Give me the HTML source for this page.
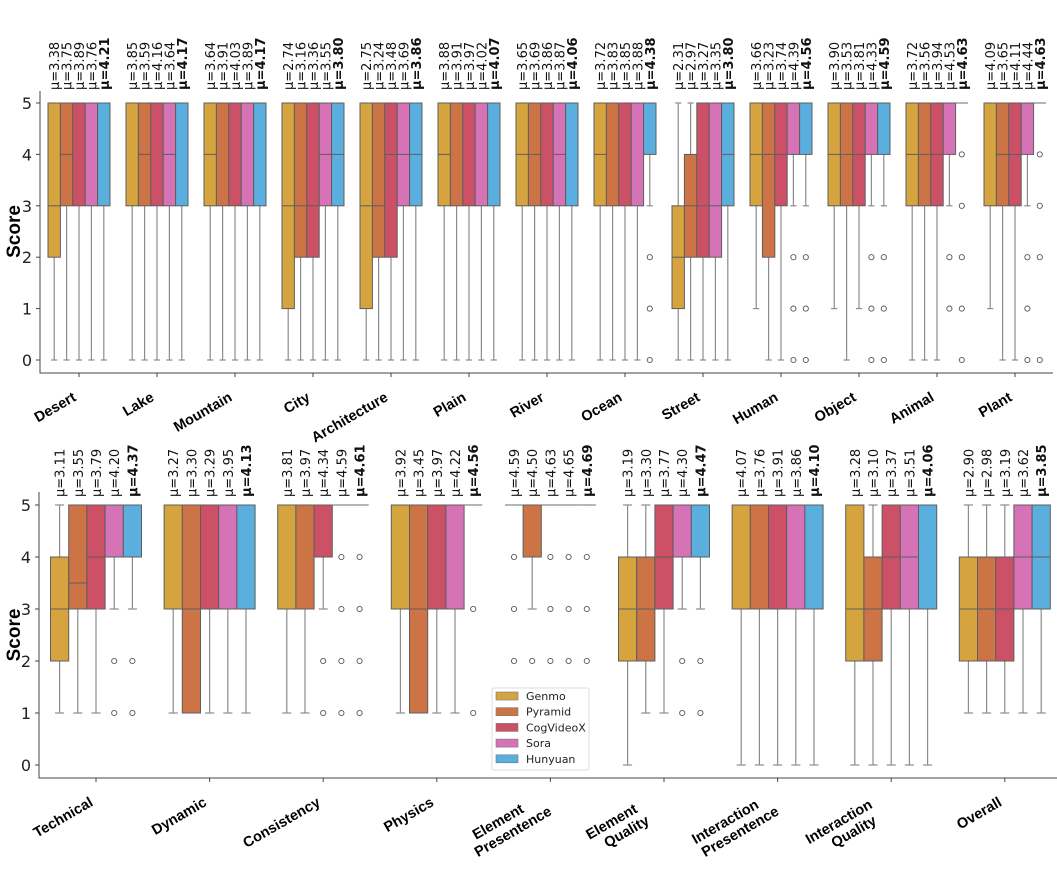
<!DOCTYPE html>
<html><head><meta charset="utf-8"><style>
body{margin:0;background:#fff}
svg{display:block;font-family:"Liberation Sans",sans-serif}
</style></head><body>
<svg id="chart" width="1057" height="888" viewBox="0 0 1057 888"></svg>
<script>
const models = ["Genmo","Pyramid","CogVideoX","Sora","Hunyuan"];
const colors = ["#d6a43f","#cc7446","#cc5166","#d672b6","#5aafde"];
const yTicks = [0,1,2,3,4,5];

const catsTop = ["Desert","Lake","Mountain","City","Architecture","Plain","River","Ocean","Street","Human","Object","Animal","Plant"];
const meansTop = [
 [3.38,3.75,3.89,3.76,4.21],[3.85,3.59,4.16,3.64,4.17],[3.64,3.91,4.03,3.89,4.17],[2.74,3.16,3.36,3.55,3.80],
 [2.75,3.24,3.48,3.69,3.86],[3.88,3.91,3.97,4.02,4.07],[3.65,3.69,3.86,3.87,4.06],[3.72,3.83,3.85,3.88,4.38],
 [2.31,2.97,3.27,3.35,3.80],[3.66,3.23,3.74,4.39,4.56],[3.90,3.53,3.81,4.33,4.59],[3.72,3.56,3.94,4.53,4.63],
 [4.09,3.65,4.11,4.44,4.63]];
// [whiskerLow, q1, median, q3, whiskerHigh]
const statsTop = [
 [[0,2,3,5,5],[0,3,4,5,5],[0,3,5,5,5],[0,3,5,5,5],[0,3,5,5,5]],
 [[0,3,5,5,5],[0,3,4,5,5],[0,3,5,5,5],[0,3,4,5,5],[0,3,5,5,5]],
 [[0,3,4,5,5],[0,3,5,5,5],[0,3,5,5,5],[0,3,5,5,5],[0,3,5,5,5]],
 [[0,1,3,5,5],[0,2,3,5,5],[0,2,3,5,5],[0,3,4,5,5],[0,3,4,5,5]],
 [[0,1,3,5,5],[0,2,3,5,5],[0,2,4,5,5],[0,3,4,5,5],[0,3,4,5,5]],
 [[0,3,4,5,5],[0,3,5,5,5],[0,3,5,5,5],[0,3,5,5,5],[0,3,5,5,5]],
 [[0,3,4,5,5],[0,3,4,5,5],[0,3,5,5,5],[0,3,4,5,5],[0,3,5,5,5]],
 [[0,3,4,5,5],[0,3,5,5,5],[0,3,5,5,5],[0,3,5,5,5],[3,4,5,5,5]],
 [[0,1,2,3,5],[0,2,3,4,5],[0,2,3,5,5],[0,2,3,5,5],[0,3,4,5,5]],
 [[1,3,4,5,5],[0,2,4,5,5],[0,3,4,5,5],[3,4,5,5,5],[3,4,5,5,5]],
 [[1,3,4,5,5],[0,3,4,5,5],[1,3,4,5,5],[3,4,5,5,5],[3,4,5,5,5]],
 [[0,3,4,5,5],[0,3,4,5,5],[0,3,4,5,5],[3,4,5,5,5],[5,5,5,5,5]],
 [[1,3,5,5,5],[0,3,4,5,5],[0,3,4,5,5],[3,4,5,5,5],[5,5,5,5,5]]];
const outTop = [
 [[],[],[],[],[]],[[],[],[],[],[]],[[],[],[],[],[]],[[],[],[],[],[]],[[],[],[],[],[]],[[],[],[],[],[]],[[],[],[],[],[]],
 [[],[],[],[],[2,1,0]],[[],[],[],[],[]],
 [[],[],[],[2,1,0],[2,1,0]],[[],[],[],[2,1,0],[2,1,0]],
 [[],[],[],[2,1],[4,3,2,1,0]],[[],[],[],[2,1,0],[4,3,2,0]]];

const catsBot = [["Technical"],["Dynamic"],["Consistency"],["Physics"],["Element","Presentence"],["Element","Quality"],["Interaction","Presentence"],["Interaction","Quality"],["Overall"]];
const meansBot = [
 [3.11,3.55,3.79,4.20,4.37],[3.27,3.30,3.29,3.95,4.13],[3.81,3.97,4.34,4.59,4.61],[3.92,3.45,3.97,4.22,4.56],
 [4.59,4.50,4.63,4.65,4.69],[3.19,3.30,3.77,4.30,4.47],[4.07,3.76,3.91,3.86,4.10],[3.28,3.10,3.37,3.51,4.06],
 [2.90,2.98,3.19,3.62,3.85]];
const statsBot = [
 [[1,2,3,4,5],[1,3,3.5,5,5],[1,3,4,5,5],[3,4,5,5,5],[3,4,5,5,5]],
 [[1,3,5,5,5],[1,1,3,5,5],[1,3,5,5,5],[1,3,5,5,5],[1,3,5,5,5]],
 [[1,3,5,5,5],[1,3,5,5,5],[3,4,5,5,5],[5,5,5,5,5],[5,5,5,5,5]],
 [[1,3,5,5,5],[1,1,3,5,5],[1,3,5,5,5],[1,3,5,5,5],[5,5,5,5,5]],
 [[5,5,5,5,5],[3,4,5,5,5],[5,5,5,5,5],[5,5,5,5,5],[5,5,5,5,5]],
 [[0,2,3,4,5],[1,2,3,4,5],[1,3,4,5,5],[3,4,5,5,5],[3,4,5,5,5]],
 [[0,3,5,5,5],[0,3,5,5,5],[0,3,5,5,5],[0,3,5,5,5],[0,3,5,5,5]],
 [[0,2,3,5,5],[0,2,3,4,5],[0,3,4,5,5],[0,3,4,5,5],[0,3,5,5,5]],
 [[1,2,3,4,5],[1,2,3,4,5],[1,2,3,4,5],[1,3,4,5,5],[1,3,4,5,5]]];
const outBot = [
 [[],[],[],[2,1],[2,1]],[[],[],[],[],[]],[[],[],[2,1],[4,3,2,1],[4,3,2,1]],[[],[],[],[],[3,1]],
 [[4,3,2],[2],[4,3,2],[4,3,2],[4,3,2]],[[],[],[],[2,1],[2,1]],[[],[],[],[],[]],[[],[],[],[],[]],[[],[],[],[],[]]];

const NS="http://www.w3.org/2000/svg";
const svg=document.getElementById('chart');
const DV='"DejaVu Sans", sans-serif';
function mk(tag,attrs,parent,text){const e=document.createElementNS(NS,tag);for(const k in attrs)e.setAttribute(k,attrs[k]);if(text!==undefined)e.textContent=text;(parent||svg).appendChild(e);return e;}

function panel(cfg){
  const g=mk('g',{});
  
  
  const y=v=>cfg.y0 - v*cfg.yUnit;
  const xc=i=>cfg.x0 + i*cfg.step;
  const bw=cfg.groupW/5;
  const ax=mk('path',{d:`M${cfg.spineX} ${cfg.spineTop}V${cfg.axisY}H${cfg.axisRight}`,fill:'none',stroke:'#444','stroke-width':1},g);
   
  yTicks.forEach(t=>{
    mk('line',{x1:cfg.spineX-4,x2:cfg.spineX,y1:y(t),y2:y(t),stroke:'#444'},g);
    const tl=mk('text',{x:cfg.spineX-8,y:y(t)+6,'text-anchor':'end','font-size':16,fill:'#222','font-family':DV},g,String(t));
     
  });
  const yt=mk('text',{transform:`translate(20 ${(y(0)+y(5))/2}) rotate(-90)`,'text-anchor':'middle','font-size':19,'font-weight':'bold',fill:'#000'},g,'Score');
   
  cfg.cats.forEach((c,i)=>{
    const cx=xc(i);
    mk('line',{x1:cx,x2:cx,y1:cfg.axisY,y2:cfg.axisY+4,stroke:'#444'},g);
    const lines=Array.isArray(c)?c:[c];
    const lg=mk('g',{transform:`translate(${cx+cfg.lblDx} ${cfg.axisY+cfg.lblDy}) rotate(-30)`},g);
     
    if(lines.length===1){mk('text',{x:0,y:0,'text-anchor':'end','font-size':14.5,'font-weight':'bold'},lg,lines[0]);}
    else{mk('text',{x:-52,y:-6,'text-anchor':'middle','font-size':14.5,'font-weight':'bold'},lg,lines[0]);
         mk('text',{x:-44,y:10,'text-anchor':'middle','font-size':14.5,'font-weight':'bold'},lg,lines[1]);}
    for(let m=0;m<5;m++){
      const s=cfg.stats[i][m];
      const bx=cx-cfg.groupW/2+m*bw, mx=bx+bw/2;
      const bg=mk('g',{},g);
      
      
      const wc='#8c8c8c';
      if(s[0]<s[1]){mk('line',{x1:mx,x2:mx,y1:y(s[1]),y2:y(s[0]),stroke:wc,'stroke-width':1.2},bg);
        mk('line',{x1:mx-bw/4,x2:mx+bw/4,y1:y(s[0]),y2:y(s[0]),stroke:wc,'stroke-width':1.2},bg);}
      if(s[4]>s[3]){mk('line',{x1:mx,x2:mx,y1:y(s[3]),y2:y(s[4]),stroke:wc,'stroke-width':1.2},bg);
        mk('line',{x1:mx-bw/4,x2:mx+bw/4,y1:y(s[4]),y2:y(s[4]),stroke:wc,'stroke-width':1.2},bg);}
      if(s[3]>s[1]){
        mk('rect',{x:bx,y:y(s[3]),width:bw,height:y(s[1])-y(s[3]),fill:colors[m],stroke:'#5e5e5e','stroke-width':1},bg);
        mk('line',{x1:bx,x2:bx+bw,y1:y(s[2]),y2:y(s[2]),stroke:'#5e5e5e','stroke-width':1},bg);
      } else {
        mk('line',{x1:bx,x2:bx+bw,y1:y(s[1]),y2:y(s[1]),stroke:'#6e6e6e','stroke-width':1},bg);
      }
      cfg.outs[i][m].forEach(o=>{mk('circle',{cx:mx,cy:y(o),r:2.6,fill:'none',stroke:'#555','stroke-width':0.9},bg);});
      const mt=mk('text',{transform:`translate(${mx+5} ${cfg.meanY}) rotate(-90)`,'font-size':13,'font-family':DV,'font-weight':m===4?'bold':'normal',fill:'#111'},g,'\u03bc='+cfg.means[i][m].toFixed(2));
       
    }
  });
}

panel({name:'top-panel',cats:catsTop,stats:statsTop,outs:outTop,means:meansTop,x0:79,step:78,groupW:62,y0:360,yUnit:51.4,
  spineX:40,spineTop:91,axisY:373,axisRight:1053,meanY:90,lblDx:-2,lblDy:27});
panel({name:'bottom-panel',cats:catsBot,stats:statsBot,outs:outBot,means:meansBot,x0:96,step:113.6,groupW:91,y0:765,yUnit:52,
  spineX:39,spineTop:492,axisY:778,axisRight:1057,meanY:497,lblDx:-2,lblDy:27});

const lg=mk('g',{});


mk('rect',{x:492,y:688,width:97,height:82,rx:2,fill:'#fff',stroke:'#ddd'},lg);
models.forEach((m,i)=>{
  const e=mk('g',{},lg);
  
  
  mk('rect',{x:496,y:692+i*15.7,width:22,height:8,fill:colors[i],stroke:'#777','stroke-width':0.6},e);
  mk('text',{x:526,y:700+i*15.7,'font-size':11,'font-family':DV,fill:'#222'},e,m);
});
</script>
</body></html>
